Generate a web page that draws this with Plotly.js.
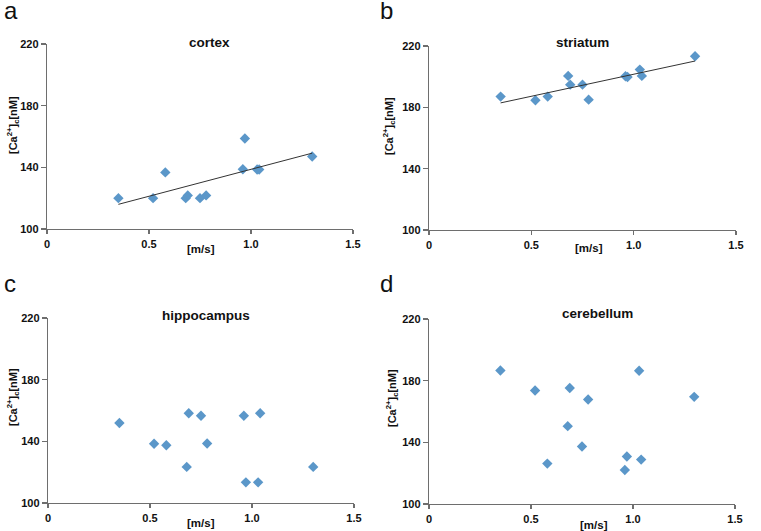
<!DOCTYPE html>
<html>
<head>
<meta charset="utf-8">
<script src="https://cdn.plot.ly/plotly-3.0.1.min.js"></script>
<style>html,body{margin:0;padding:0;background:#fff;}#chart{width:761px;height:531px;}</style>
</head>
<body>
<div id="chart"></div>
<script>
// ---- data ----
var speed = [0.35, 0.52, 0.58, 0.68, 0.69, 0.75, 0.78, 0.96, 0.97, 1.03, 1.04, 1.30];
var cortex = [120, 120, 136.7, 120, 121.8, 120, 121.8, 138.8, 158.7, 138.6, 138.6, 147];
var striatum = [187, 184.6, 187, 200.5, 194.8, 194.8, 185, 200.3, 199.8, 204.6, 200.5, 213.3];
var hippocampus = [151.9, 138.4, 137.5, 123.4, 158.2, 156.6, 138.6, 156.6, 113.4, 113.4, 158.2, 123.4];
var cerebellum = [186.6, 173.6, 126.2, 150.5, 175.2, 137.3, 167.8, 122.1, 130.8, 186.4, 128.8, 169.5];
var fitX = [0.35, 1.30];
var cortexFit = [116, 149.2];
var striatumFit = [182.9, 210.2];
var regionNames = ["cortex", "striatum", "hippocampus", "cerebellum"];
var panelLetters = ["a", "b", "c", "d"];
var xTickVals = [0, 0.5, 1.0, 1.5];
var xTickText = ["0", "0.5", "1.0", "1.5"];
var yTickVals = [100, 140, 180, 220];
var yTickText = ["100", "140", "180", "220"];

var W = 761, H = 531;
function px(x) { return x / W; }
function py(y) { return 1 - y / H; }

var markerColor = "#5b97c9";
var series = [cortex, striatum, hippocampus, cerebellum];
var traces = [];
var axNames = [["x", "y"], ["x2", "y2"], ["x3", "y3"], ["x4", "y4"]];
series.forEach(function (s, i) {
  traces.push({
    x: speed, y: s, type: "scatter", mode: "markers",
    xaxis: axNames[i][0], yaxis: axNames[i][1],
    marker: { symbol: "diamond", size: 8, color: markerColor },
    cliponaxis: false, hoverinfo: "x+y"
  });
});
traces.push({ x: fitX, y: cortexFit, type: "scatter", mode: "lines", xaxis: "x", yaxis: "y",
  line: { color: "#333333", width: 1 } });
traces.push({ x: fitX, y: striatumFit, type: "scatter", mode: "lines", xaxis: "x2", yaxis: "y2",
  line: { color: "#333333", width: 1 } });

// pixel boxes [left, right, top, bottom]
var boxes = [[47, 353, 44, 229], [429, 736, 46, 230], [48, 354, 318, 503], [429, 735, 319, 504]];

var tickFont = { family: "Liberation Sans, Arial, sans-serif", size: 11, color: "#111", weight: "bold" };
function xa(b, anchor) {
  return { domain: [px(b[0]), px(b[1])], range: [0, 1.5], anchor: anchor,
    showline: true, linecolor: "#6e6e6e", linewidth: 1.3, ticks: "outside", ticklen: 4,
    tickcolor: "#6e6e6e", tickwidth: 1.3, showgrid: false, zeroline: false,
    tickmode: "array", tickvals: xTickVals, ticktext: xTickText, tickfont: tickFont, fixedrange: true };
}
function ya(b, anchor) {
  return { domain: [py(b[3]), py(b[2])], range: [100, 220], anchor: anchor,
    showline: true, linecolor: "#6e6e6e", linewidth: 1.3, ticks: "outside", ticklen: 5,
    tickcolor: "#6e6e6e", tickwidth: 1.3, showgrid: false, zeroline: false,
    tickmode: "array", tickvals: yTickVals, ticktext: yTickText, tickfont: tickFont, fixedrange: true };
}

var titlePos = [[209, 43], [582, 43], [205.5, 315], [597.5, 313]];
var letterPos = [[10.5, 11], [386, 11], [10, 283], [386, 283]];
var xTitlePos = [[201, 249], [589, 248], [201, 523], [594, 525]];
var yTitlePos = [[13, 125], [389, 126], [13, 397], [392, 398]];

var annotations = [];
for (var i = 0; i < 4; i++) {
  annotations.push({ xref: "paper", yref: "paper", x: px(titlePos[i][0]), y: py(titlePos[i][1]),
    xanchor: "center", yanchor: "middle", showarrow: false, text: regionNames[i],
    font: { family: "Liberation Sans, Arial, sans-serif", size: 13.5, color: "#111", weight: "bold" } });
  annotations.push({ xref: "paper", yref: "paper", x: px(letterPos[i][0]), y: py(letterPos[i][1]),
    xanchor: "center", yanchor: "middle", showarrow: false, text: panelLetters[i],
    font: { family: "Liberation Sans, Arial, sans-serif", size: 24, color: "#111" } });
  annotations.push({ xref: "paper", yref: "paper", x: px(xTitlePos[i][0]), y: py(xTitlePos[i][1]),
    xanchor: "center", yanchor: "middle", showarrow: false, text: "[m/s]",
    font: { family: "Liberation Sans, Arial, sans-serif", size: 11.5, color: "#111", weight: "bold" } });
  annotations.push({ xref: "paper", yref: "paper", x: px(yTitlePos[i][0]), y: py(yTitlePos[i][1]),
    xanchor: "center", yanchor: "middle", showarrow: false, textangle: -90,
    text: "[Ca<sup>2+</sup>]<sub>c</sub>[nM]",
    font: { family: "Liberation Sans, Arial, sans-serif", size: 11, color: "#111", weight: "bold" } });
}

var layout = {
  width: W, height: H, margin: { l: 0, r: 0, t: 0, b: 0 },
  paper_bgcolor: "#fff", plot_bgcolor: "#fff", showlegend: false,
  xaxis: xa(boxes[0], "y"), yaxis: ya(boxes[0], "x"),
  xaxis2: xa(boxes[1], "y2"), yaxis2: ya(boxes[1], "x2"),
  xaxis3: xa(boxes[2], "y3"), yaxis3: ya(boxes[2], "x3"),
  xaxis4: xa(boxes[3], "y4"), yaxis4: ya(boxes[3], "x4"),
  annotations: annotations
};
Plotly.newPlot("chart", traces, layout, { displayModeBar: false, staticPlot: true });
</script>
</body>
</html>
